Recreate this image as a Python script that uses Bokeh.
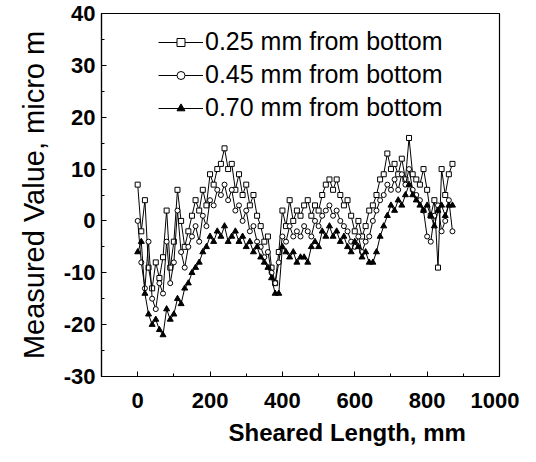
from bokeh.plotting import figure
from bokeh.models import FixedTicker, Legend, LegendItem, Title, PrintfTickFormatter
from bokeh.embed import file_html
from bokeh.resources import INLINE

sheared_length = [0, 10, 20, 30, 40, 50, 60, 70, 80, 90,
                  100, 110, 120, 130, 140, 150, 160, 170, 180, 190,
                  200, 210, 220, 230, 240, 250, 260, 270, 280, 290,
                  300, 310, 320, 330, 340, 350, 360, 370, 380, 390,
                  400, 410, 420, 430, 440, 450, 460, 470, 480, 490,
                  500, 510, 520, 530, 540, 550, 560, 570, 580, 590,
                  600, 610, 620, 630, 640, 650, 660, 670, 680, 690,
                  700, 710, 720, 730, 740, 750, 760, 770, 780, 790,
                  800, 810, 820, 830, 840, 850, 860, 870]

depth_025 = [7, -2, 4, -9, -13, -8, -11, -7, 2, -9,
             -4, 6, 0, -5, -2, 1, 4, 2, 6, 3,
             9, 7, 10, 11, 14, 10, 11, 6, 9, 5,
             7, 3, 5, 1, -1, -4, -3, -9, -12, -6,
             2, -1, 4, 0, 2, 1, 3, 4, 1, 3,
             2, 5, 7, 8, 6, 8, 5, 3, 4, 1,
             -2, 0, -3, -1, 2, 3, 5, 8, 9, 13,
             10, 11, 9, 12, 8, 16, 9, 8, 7, 10,
             6, 1, 4, -9, 10, 5, 9, 11]

depth_045 = [0, -8, -13, -4, -15, -17, -12, -14, -4, -12,
             -8, 2, -6, -9, -5, -3, -1, -4, 1, -1,
             4, 3, 6, 5, 7, 4, 6, 2, 3, 0,
             2, -2, -1, -4, -5, -7, -6, -10, -12, -8,
             -3, -4, -1, -3, -2, -3, -1, -2, -3, 0,
             -1, 1, 2, 3, 1, 2, 0, -1, -2, -4,
             -5, -3, -6, -4, -3, 0, 2, 4, 5, 7,
             6, 8, 6, 9, 7, 10, 6, 5, 4, 2,
             -3, -4, 1, 3, -2, 0, 4, -2]

depth_070 = [-6, -4, -14, -18, -20, -19, -21, -22, -17, -19,
             -18, -15, -16, -13, -12, -10, -9, -8, -6, -5,
             -3, -4, -2, -3, -1, -4, -3, -2, -4, -3,
             -5, -4, -6, -5, -7, -8, -9, -11, -14, -14,
             -5, -6, -7, -6, -8, -7, -7, -8, -5, -4,
             -5, -2, -3, -1, -3, -2, -4, -3, -5, -6,
             -4, -5, -7, -6, -8, -8, -6, -3, -1, 1,
             3, 2, 4, 3, 5, 7, 5, 4, 3, 2,
             3, 1, -1, 2, 3, 1, 3, 3]

labels = ["0.25 mm from bottom", "0.45 mm from bottom", "0.70 mm from bottom"]
x_ticks = [0, 200, 400, 600, 800, 1000]
x_minor = [-100, 100, 300, 500, 700, 900]
y_ticks = [-30, -20, -10, 0, 10, 20, 30, 40]
y_minor = [-25, -15, -5, 5, 15, 25, 35]

FONT = "Liberation Sans"

p = figure(frame_width=398, frame_height=363, output_backend="svg", toolbar_location=None,
           x_range=(-100, 1000), y_range=(-30, 40),
           min_border_left=101, min_border_right=20, min_border_top=13, min_border_bottom=60)
p.background_fill_color = "white"
p.border_fill_color = "white"
p.outline_line_color = "black"
p.outline_line_width = 1.2
p.grid.visible = False

for ax in (p.xaxis[0], p.yaxis[0]):
    ax.major_tick_in = 5
    ax.major_tick_out = 0
    ax.minor_tick_in = 3
    ax.minor_tick_out = 0
    ax.axis_line_color = "black"
    ax.axis_line_width = 1.2
    ax.major_tick_line_color = "black"
    ax.minor_tick_line_color = "black"
    ax.major_label_text_font = FONT
    ax.major_label_text_font_style = "bold"
    ax.major_label_text_font_size = "22px"
    ax.major_label_text_color = "black"
    ax.formatter = PrintfTickFormatter(format="%d")

p.xaxis[0].ticker = FixedTicker(ticks=x_ticks, minor_ticks=x_minor)
p.yaxis[0].ticker = FixedTicker(ticks=y_ticks, minor_ticks=y_minor)
p.xaxis[0].major_label_standoff = 16
p.yaxis[0].major_label_standoff = 6

p.yaxis[0].axis_label = "Measured Value, micro m"
p.yaxis[0].axis_label_text_font = FONT
p.yaxis[0].axis_label_text_font_style = "normal"
p.yaxis[0].axis_label_text_font_size = "29px"
p.yaxis[0].axis_label_text_color = "black"
p.yaxis[0].axis_label_standoff = 11

xtitle = Title(text="Sheared Length, mm", align="left", offset=127,
               text_font=FONT, text_font_style="bold", text_font_size="24px",
               text_color="black", standoff=12)
p.add_layout(xtitle, "below")

l1 = p.line(sheared_length, depth_025, line_color="black", line_width=1)
m1 = p.scatter(sheared_length, depth_025, marker="square", size=5,
               line_color="black", fill_color="white", line_width=1)
l2 = p.line(sheared_length, depth_045, line_color="black", line_width=1)
m2 = p.scatter(sheared_length, depth_045, marker="circle", size=5,
               line_color="black", fill_color="white", line_width=1)
l3 = p.line(sheared_length, depth_070, line_color="black", line_width=1)
m3 = p.scatter(sheared_length, depth_070, marker="triangle", size=6,
               line_color="black", fill_color="black", line_width=1)

legend = Legend(items=[LegendItem(label=labels[0], renderers=[l1, m1]),
                       LegendItem(label=labels[1], renderers=[l2, m2]),
                       LegendItem(label=labels[2], renderers=[l3, m3])],
                location=(57, 254), border_line_color=None, background_fill_alpha=0,
                label_text_font=FONT, label_text_font_size="25px",
                label_text_color="black", glyph_width=45, glyph_height=20,
                label_height=22, spacing=4, padding=0, label_standoff=2)
p.add_layout(legend)

open("out.html", "w").write(file_html(p, INLINE))
